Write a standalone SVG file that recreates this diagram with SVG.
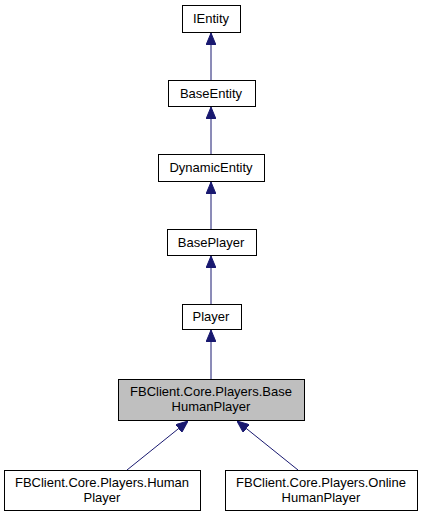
<svg xmlns="http://www.w3.org/2000/svg" width="423" height="517" viewBox="0 0 423 517">
<style>
.box{fill:#ffffff;stroke:#000000;stroke-width:1}
.sel{fill:#bfbfbf;stroke:#000000;stroke-width:1}
text{font-family:"Liberation Sans",Arial,sans-serif;font-size:13px;text-anchor:middle;fill:#000000}
.edge{stroke:#191970;stroke-width:1;fill:none}
</style>
<defs>
<marker id="ah" viewBox="0 0 12 10" refX="12" refY="5" markerWidth="12" markerHeight="10" markerUnits="userSpaceOnUse" orient="auto">
<path d="M0,0 L12,5 L0,10 Z" fill="#191970" stroke="#191970"/>
</marker>
</defs>
<rect width="423" height="517" fill="#ffffff"/>
<g id="edges">
<path class="edge" d="M211,80 L211,33" marker-end="url(#ah)"/>
<path class="edge" d="M211,154 L211,107" marker-end="url(#ah)"/>
<path class="edge" d="M211,229 L211,182" marker-end="url(#ah)"/>
<path class="edge" d="M211,304 L211,256" marker-end="url(#ah)"/>
<path class="edge" d="M211,379 L211,330" marker-end="url(#ah)"/>
<path class="edge" d="M127,470 L188,421" marker-end="url(#ah)"/>
<path class="edge" d="M298,470 L237,421" marker-end="url(#ah)"/>
</g>
<g id="IEntity">
<rect class="box" x="182.5" y="5.5" width="58" height="27"/>
<text x="211" y="23">IEntity</text>
</g>
<g id="BaseEntity">
<rect class="box" x="168.5" y="80.5" width="87" height="26"/>
<text x="211" y="98">BaseEntity</text>
</g>
<g id="DynamicEntity">
<rect class="box" x="158.5" y="154.5" width="106" height="27"/>
<text x="211" y="172">DynamicEntity</text>
</g>
<g id="BasePlayer">
<rect class="box" x="167.5" y="229.5" width="89" height="26"/>
<text x="211" y="247">BasePlayer</text>
</g>
<g id="Player">
<rect class="box" x="182.5" y="304.5" width="59" height="25"/>
<text x="211" y="321">Player</text>
</g>
<g id="BaseHumanPlayer">
<rect class="sel" x="118.5" y="379.5" width="186" height="41"/>
<text x="211" y="396">FBClient.Core.Players.Base</text>
<text x="211" y="411">HumanPlayer</text>
</g>
<g id="HumanPlayer">
<rect class="box" x="4.5" y="470.5" width="196" height="40"/>
<text x="102" y="487">FBClient.Core.Players.Human</text>
<text x="102" y="502">Player</text>
</g>
<g id="OnlineHumanPlayer">
<rect class="box" x="225.5" y="470.5" width="192" height="40"/>
<text x="321" y="487">FBClient.Core.Players.Online</text>
<text x="321" y="502">HumanPlayer</text>
</g>
</svg>
